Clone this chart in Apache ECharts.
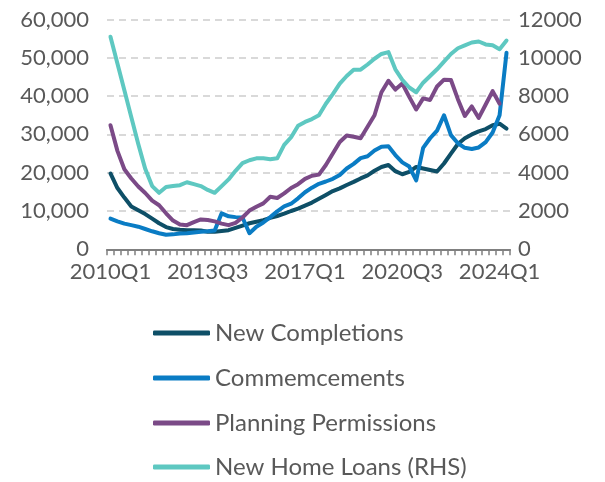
<!DOCTYPE html>
<html>
<head>
<meta charset="utf-8">
<script src="https://cdn.jsdelivr.net/npm/echarts@6/dist/echarts.min.js"></script>
<style>
html,body{margin:0;padding:0;background:#fff;}
#chart{width:605px;height:482px;}
</style>
</head>
<body>
<div id="chart"></div>
<script>
const categories = [
  "2010Q1","2010Q2","2010Q3","2010Q4","2011Q1","2011Q2","2011Q3","2011Q4",
  "2012Q1","2012Q2","2012Q3","2012Q4","2013Q1","2013Q2","2013Q3","2013Q4",
  "2014Q1","2014Q2","2014Q3","2014Q4","2015Q1","2015Q2","2015Q3","2015Q4",
  "2016Q1","2016Q2","2016Q3","2016Q4","2017Q1","2017Q2","2017Q3","2017Q4",
  "2018Q1","2018Q2","2018Q3","2018Q4","2019Q1","2019Q2","2019Q3","2019Q4",
  "2020Q1","2020Q2","2020Q3","2020Q4","2021Q1","2021Q2","2021Q3","2021Q4",
  "2022Q1","2022Q2","2022Q3","2022Q4","2023Q1","2023Q2","2023Q3","2023Q4",
  "2024Q1","2024Q2"
];

const newCompletions = [
  19800,16000,13500,11200,10200,9200,8000,6800,5800,5300,5100,5000,5000,4900,4600,4600,
  4800,5000,5600,6200,6800,7200,7600,8200,8700,9300,10000,10600,11400,12200,13200,14200,
  15200,15900,16800,17600,18500,19300,20500,21500,22000,20400,19600,20200,21500,21100,
  20700,20300,22400,25000,27500,29000,30000,30800,31400,32400,32800,31500
];

const commencements = [
  8000,7300,6700,6300,5900,5300,4700,4200,3800,3900,4100,4200,4400,4600,4700,4900,
  9400,8600,8400,8300,4200,5900,7000,8400,9900,11200,11900,13300,14900,16100,17100,17700,
  18400,19400,21100,22300,23800,24300,25800,26800,26900,24600,22700,21600,18000,26500,
  29000,31000,35000,29800,27700,26500,26200,26600,28000,30500,35000,51300
];

const planningPermissions = [
  32400,25700,20900,18500,16400,14700,12700,11500,9400,7500,6500,6300,7100,7800,7650,7300,
  6700,6300,6900,8300,10100,11100,12000,13700,13400,14600,16000,17000,18400,19200,19500,22000,
  25000,28000,29700,29400,29000,32000,35000,41000,44000,41700,43300,39800,36500,39400,
  39000,42500,44300,44200,39200,34800,37300,34300,37800,41300,38000
];

const newHomeLoans = [
  11100,9700,8300,6900,5500,4200,3300,2950,3250,3300,3350,3500,3400,3300,3100,2950,
  3300,3650,4100,4500,4650,4750,4750,4700,4750,5450,5850,6450,6650,6800,7000,7600,
  8100,8650,9050,9380,9380,9650,9950,10200,10300,9400,8850,8450,8200,8700,
  9050,9400,9800,10200,10500,10650,10800,10850,10700,10650,10450,10900
];

const seriesNames = ['New Completions', 'Commemcements', 'Planning Permissions', 'New Home Loans (RHS)'];
const leftTicks = { min: 0, max: 60000, interval: 10000 };
const rightTicks = { min: 0, max: 12000, interval: 2000 };

const FONT = 'Lato';
const TXT = '#595959';
const COLORS = ['#0e4f67', '#0a7cc4', '#7b4a87', '#5ec8c1'];
const legendTops = [321, 366, 411, 455];

const chart = echarts.init(document.getElementById('chart'), null, { renderer: 'canvas' });

function lineSeries(name, data, color, yIndex) {
  return {
    name: name,
    type: 'line',
    data: data,
    yAxisIndex: yIndex,
    symbol: 'none',
    smooth: false,
    lineStyle: { color: color, width: 4, cap: 'round', join: 'round' },
    itemStyle: { color: color },
    emphasis: { disabled: true },
    animation: false
  };
}

const legends = seriesNames.map(function (n, k) {
  return {
    orient: 'vertical',
    left: 153,
    top: legendTops[k],
    padding: 0,
    itemWidth: 57,
    itemHeight: 5,
    itemGap: 0,
    icon: 'roundRect',
    selectedMode: false,
    textStyle: { fontFamily: FONT, fontSize: 24, color: TXT, lineHeight: 24 },
    data: [n]
  };
});

chart.setOption({
  animation: false,
  grid: { left: 107, right: 95, top: 19.5, bottom: 232.7, containLabel: false },
  legend: legends,
  xAxis: {
    type: 'category',
    data: categories,
    boundaryGap: true,
    axisLine: { show: true, lineStyle: { color: '#808080', width: 2 } },
    axisTick: { show: true, interval: 0, length: 6, lineStyle: { color: '#808080', width: 1.5 } },
    axisLabel: { interval: 13, fontFamily: FONT, fontSize: 22, color: TXT, margin: 12 },
    splitLine: { show: false }
  },
  yAxis: [
    {
      type: 'value',
      position: 'left',
      min: leftTicks.min, max: leftTicks.max, interval: leftTicks.interval,
      axisLine: { show: false },
      axisTick: { show: false },
      axisLabel: {
        fontFamily: FONT, fontSize: 22, color: TXT, margin: 18,
        formatter: function (v) { return v.toLocaleString('en-US'); }
      },
      splitLine: { show: true, lineStyle: { color: '#d9d9d9', width: 2, type: [7, 5] } }
    },
    {
      type: 'value',
      position: 'right',
      min: rightTicks.min, max: rightTicks.max, interval: rightTicks.interval,
      axisLine: { show: false },
      axisTick: { show: false },
      axisLabel: {
        fontFamily: FONT, fontSize: 22, color: TXT, margin: 8,
        formatter: function (v) { return String(v); }
      },
      splitLine: { show: false }
    }
  ],
  series: [
    lineSeries(seriesNames[0], newCompletions, COLORS[0], 0),
    lineSeries(seriesNames[1], commencements, COLORS[1], 0),
    lineSeries(seriesNames[2], planningPermissions, COLORS[2], 0),
    lineSeries(seriesNames[3], newHomeLoans, COLORS[3], 1)
  ]
});
</script>
</body>
</html>
